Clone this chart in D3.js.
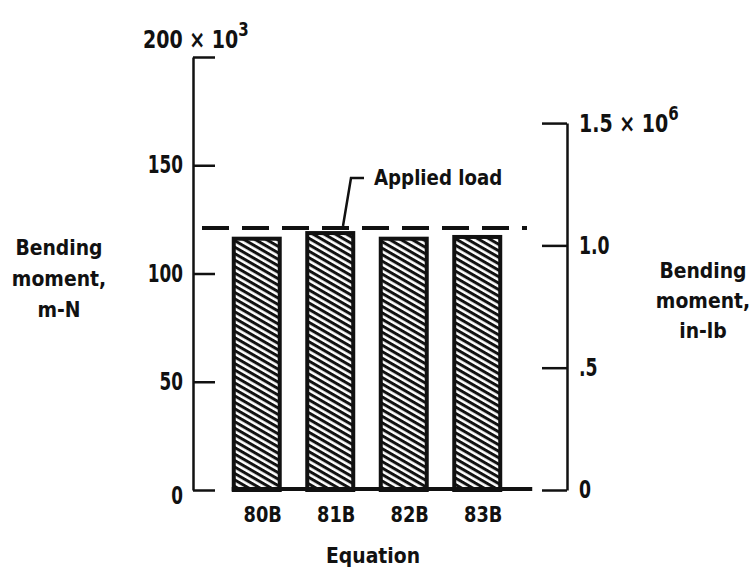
<!DOCTYPE html>
<html>
<head>
<meta charset="utf-8">
<script src="https://cdn.jsdelivr.net/npm/d3@7"></script>
<style>
  body { margin: 0; background: #fff; }
  svg text { font-family: "Liberation Sans Narrow", "DejaVu Sans Condensed", sans-serif; font-weight: bold; fill: #111; }
</style>
</head>
<body>
<script>
// Chart data
const equations = ["80B", "81B", "82B", "83B"]
const moments = [117, 119.6, 117, 117.8]      // x 10^3 m-N
const appliedLoad = 121                        // x 10^3 m-N
const leftTicks = [0, 50, 100, 150, 200]
const rightTicks = [0, 0.5e6, 1.0e6, 1.5e6]   // in-lb
const rightTickLabels = ["0", ".5", "1.0", ""]
const inlbToKmN = 0.1129848 / 1000

const w = 752
const h = 572

// squeeze text horizontally (lettering in the original is narrow)
function squeeze(sel, k) {
    sel.each(function () {
        const t = d3.select(this)
        const x0 = +t.attr("x") || 0
        t.attr("x", x0 / k).attr("transform", `scale(${k},1)`)
    })
}

const svg = d3.select("body")
    .append("svg")
    .attr("width", w)
    .attr("height", h)

// hatch pattern for the bars
const defs = svg.append("defs")
defs.append("pattern")
    .attr("id", "hatch")
    .attr("patternUnits", "userSpaceOnUse")
    .attr("width", 10)
    .attr("height", 5.6)
    .attr("patternTransform", "rotate(30)")
  .append("rect")
    .attr("x", 0)
    .attr("y", 0)
    .attr("width", 10)
    .attr("height", 3)
    .attr("fill", "#111")

// scales
const y = d3.scaleLinear()
    .domain([0, 200])
    .range([490, 57])

const yRight = d3.scaleLinear()
    .domain([0, 1.5e6])
    .range([y(0), y(1.5e6 * inlbToKmN)])

const x = d3.scaleBand()
    .domain(equations)
    .range([220, 514])
    .paddingInner(0.32)
    .paddingOuter(0.16)

// left axis
const leftAxis = d3.axisLeft(y)
    .tickValues(leftTicks)
    .tickSizeInner(-22)
    .tickSizeOuter(0)
    .tickPadding(10)
    .tickFormat(d => d === 200 ? "" : d)

const gl = svg.append("g")
    .attr("transform", "translate(193,0)")
    .call(leftAxis)
gl.selectAll("path, line").attr("stroke", "#111").attr("stroke-width", 2.5)
gl.selectAll("text").attr("font-size", 24).attr("fill", "#111")
    .attr("font-family", null)
gl.selectAll("text").filter(d => d === 0).attr("dy", "0.55em")
squeeze(gl.selectAll("text"), 0.78)

// right axis
const rightAxis = d3.axisRight(yRight)
    .tickValues(rightTicks)
    .tickSizeInner(-25)
    .tickSizeOuter(0)
    .tickPadding(12)
    .tickFormat((d, i) => rightTickLabels[i])

const gr = svg.append("g")
    .attr("transform", "translate(567,0)")
    .call(rightAxis)
gr.selectAll("path, line").attr("stroke", "#111").attr("stroke-width", 2.5)
gr.selectAll("text").attr("font-size", 24).attr("fill", "#111")
    .attr("font-family", null)
squeeze(gr.selectAll("text"), 0.8)

// scale multipliers
const topL = svg.append("text")
    .attr("x", 143)
    .attr("y", y(200) - 9)
    .attr("font-size", 24)
topL.append("tspan").text("200 × 10")
topL.append("tspan").attr("dy", -12).attr("font-size", 19).text("3")
squeeze(topL, 0.88)

const topR = svg.append("text")
    .attr("x", 579)
    .attr("y", yRight(1.5e6) + 9)
    .attr("font-size", 24)
topR.append("tspan").text("1.5 × 10")
topR.append("tspan").attr("dy", -12).attr("font-size", 19).text("6")
squeeze(topR, 0.88)

// bars
svg.selectAll("rect.bar")
    .data(moments)
    .join("rect")
    .attr("class", "bar")
    .attr("x", (d, i) => x(equations[i]) + 2)
    .attr("y", d => y(d) + 2)
    .attr("width", x.bandwidth() - 4)
    .attr("height", d => y(0) - y(d) - 2)
    .attr("fill", "url(#hatch)")
    .attr("stroke", "#111")
    .attr("stroke-width", 4)

// baseline under bars
svg.append("line")
    .attr("x1", x(equations[0]))
    .attr("x2", x(equations[3]) + x.bandwidth() + 30)
    .attr("y1", y(0) - 1)
    .attr("y2", y(0) - 1)
    .attr("stroke", "#111")
    .attr("stroke-width", 4)

// applied load dashed line
svg.append("line")
    .attr("x1", 202)
    .attr("x2", 527)
    .attr("y1", y(appliedLoad))
    .attr("y2", y(appliedLoad))
    .attr("stroke", "#111")
    .attr("stroke-width", 4)
    .attr("stroke-dasharray", "27 13")

svg.append("polyline")
    .attr("points", `343,${y(appliedLoad) - 2} 351,178 364,178`)
    .attr("fill", "none")
    .attr("stroke", "#111")
    .attr("stroke-width", 2.5)

const loadLabel = svg.append("text")
    .attr("x", 374)
    .attr("y", 185)
    .attr("font-size", 22)
    .text("Applied load")
squeeze(loadLabel, 0.92)

// category labels
const cats = svg.selectAll("text.cat")
    .data(equations)
    .join("text")
    .attr("class", "cat")
    .attr("x", d => x(d) + x.bandwidth() / 2 + 6)
    .attr("y", 522)
    .attr("text-anchor", "middle")
    .attr("font-size", 22)
    .text(d => d)
squeeze(cats, 0.9)

const eqLabel = svg.append("text")
    .attr("x", 373)
    .attr("y", 563)
    .attr("text-anchor", "middle")
    .attr("font-size", 22)
    .text("Equation")
squeeze(eqLabel, 0.95)

// axis titles
const leftTitle = ["Bending", "moment,", "m-N"]
const rightTitle = ["Bending", "moment,", "in-lb"]

const lt = svg.selectAll("text.ltitle")
    .data(leftTitle)
    .join("text")
    .attr("class", "ltitle")
    .attr("x", 59)
    .attr("y", (d, i) => 255 + i * 31)
    .attr("text-anchor", "middle")
    .attr("font-size", 22)
    .text(d => d)
squeeze(lt, 0.95)

const rt = svg.selectAll("text.rtitle")
    .data(rightTitle)
    .join("text")
    .attr("class", "rtitle")
    .attr("x", 703)
    .attr("y", (d, i) => 278 + i * 30)
    .attr("text-anchor", "middle")
    .attr("font-size", 22)
    .text(d => d)
squeeze(rt, 0.95)
</script>
</body>
</html>
